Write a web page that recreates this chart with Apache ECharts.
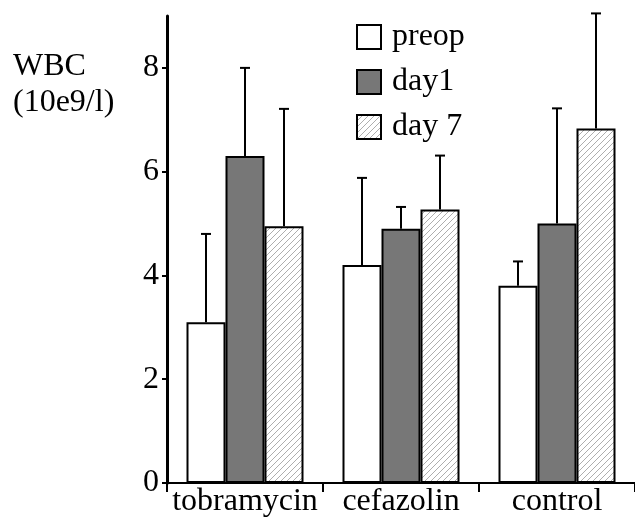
<!DOCTYPE html>
<html>
<head>
<meta charset="utf-8">
<script src="https://cdn.jsdelivr.net/npm/echarts@6/dist/echarts.min.js"></script>
<style>
  html, body { margin: 0; padding: 0; background: #fff; }
  #main { width: 635px; height: 523px; }
</style>
</head>
<body>
<div id="main"></div>
<script>
// 数据
let categories = ['tobramycin', 'cefazolin', 'control']
let preop = [3.1, 4.2, 3.8]
let preopSD = [1.7, 1.68, 0.47]
let day1 = [6.3, 4.9, 5.0]
let day1SD = [1.7, 0.42, 2.22]
let day7 = [4.95, 5.27, 6.83]
let day7SD = [2.26, 1.04, 2.22]
let yTicks = [0, 2, 4, 6, 8]

let font = "'Liberation Serif', 'DejaVu Serif', serif"

// 斜线填充
function hatch() {
  let c = document.createElement('canvas')
  c.width = 6
  c.height = 6
  let ctx = c.getContext('2d')
  ctx.fillStyle = '#fff'
  ctx.fillRect(0, 0, 6, 6)
  ctx.strokeStyle = '#999'
  ctx.lineWidth = 0.8
  ctx.beginPath()
  ctx.moveTo(-1, 7); ctx.lineTo(7, -1)
  ctx.moveTo(-1, 1); ctx.lineTo(1, -1)
  ctx.moveTo(5, 7); ctx.lineTo(7, 5)
  ctx.stroke()
  return { image: c, repeat: 'repeat' }
}

// 误差线，offset: -1 / 0 / 1 表示组内第几根柱子
function errorBar(offset) {
  return function (params, api) {
    let i = api.value(0)
    let base = api.coord([i, api.value(1)])
    let top = api.coord([i, api.value(1) + api.value(2)])
    let w = api.size([1, 0])[0] * 0.25
    let cx = base[0] + offset * w
    let style = { stroke: '#000', lineWidth: 2 }
    return {
      type: 'group',
      children: [
        { type: 'line', shape: { x1: cx, y1: base[1], x2: cx, y2: top[1] }, style: style },
        { type: 'line', shape: { x1: cx - 5, y1: top[1], x2: cx + 5, y2: top[1] }, style: style }
      ]
    }
  }
}

function errData(vals, sds) {
  return vals.map((v, i) => [i, v, sds[i]])
}

let mychart = echarts.init(document.getElementById('main'))

let barStyle = function (color) {
  return { color: color, borderColor: '#000', borderWidth: 2 }
}

let option = {
  animation: false,
  textStyle: { fontFamily: font },
  grid: { left: 167, right: 0, top: 16, bottom: 40 },
  legend: {
    orient: 'vertical',
    left: 356,
    top: 21,
    padding: 0,
    icon: 'rect',
    itemWidth: 24,
    itemHeight: 24,
    itemGap: 13,
    textStyle: { fontFamily: font, fontSize: 32, color: '#000', padding: [0, 0, 0, 6] },
    data: ['preop', 'day1', 'day 7']
  },
  graphic: [{
    type: 'text',
    left: 13,
    top: 49,
    style: {
      text: 'WBC\n(10e9/l)',
      font: '32px ' + font,
      lineHeight: 36,
      fill: '#000'
    }
  }],
  xAxis: {
    type: 'category',
    data: categories,
    axisLine: { lineStyle: { color: '#000', width: 2 } },
    axisTick: { show: true, length: 9, lineStyle: { color: '#000', width: 2 } },
    axisLabel: { color: '#000', fontSize: 32, fontFamily: font, margin: 3, interval: 0 }
  },
  yAxis: {
    type: 'value',
    min: 0,
    max: 9,
    interval: 2,
    splitLine: { show: false },
    axisLine: { show: true, lineStyle: { color: '#000', width: 3 } },
    axisTick: { show: true, length: 5, customValues: yTicks, lineStyle: { color: '#000', width: 2 } },
    axisLabel: { color: '#000', fontSize: 32, fontFamily: font, margin: 8, customValues: yTicks }
  },
  series: [
    { name: 'preop', type: 'bar', data: preop, barGap: '0%', barCategoryGap: '25%', itemStyle: barStyle('#fff') },
    { name: 'day1', type: 'bar', data: day1, itemStyle: barStyle('#777') },
    { name: 'day 7', type: 'bar', data: day7, itemStyle: barStyle(hatch()) },
    { type: 'custom', renderItem: errorBar(-1), data: errData(preop, preopSD), z: 3 },
    { type: 'custom', renderItem: errorBar(0), data: errData(day1, day1SD), z: 3 },
    { type: 'custom', renderItem: errorBar(1), data: errData(day7, day7SD), z: 3 }
  ]
}

mychart.setOption(option)
</script>
</body>
</html>
